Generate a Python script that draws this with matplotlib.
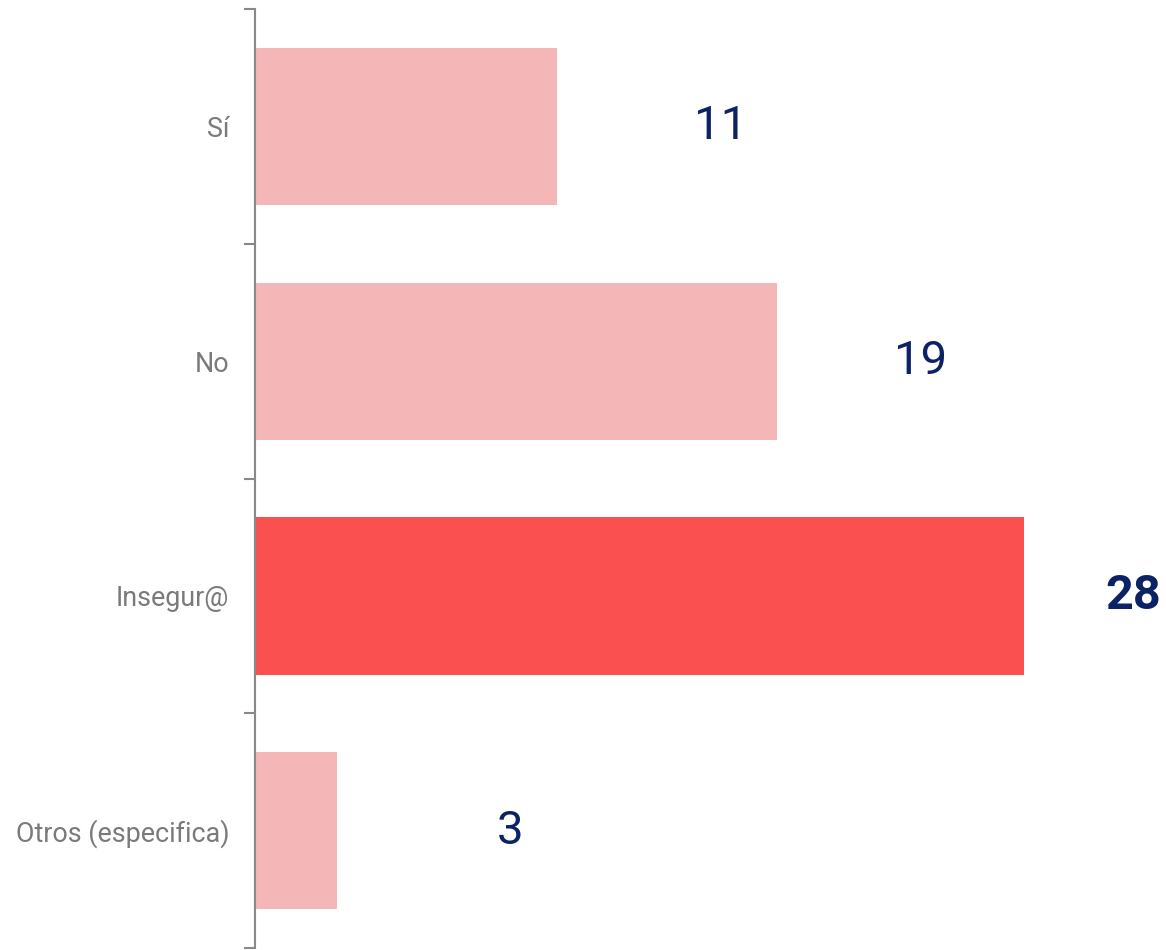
import numpy as np
import matplotlib.pyplot as plt

plt.rcParams['font.family'] = ['Roboto', 'DejaVu Sans']

categories = ['Sí', 'No', 'Insegur@', 'Otros (especifica)']
values = [11, 19, 28, 3]
highlight = 'Insegur@'

pink = '#f5b6b7'
red = '#fa5050'
navy = '#0b2265'

fig = plt.figure(figsize=(11.66, 9.5), dpi=100)
ax = fig.add_axes([0.2187, 0.0021, 0.7813, 0.9884])

y = np.arange(len(categories))
colors = [red if c == highlight else pink for c in categories]
ax.barh(y, values, height=0.67, color=colors)

ax.set_xlim(0, 33.17)
ax.set_ylim(len(categories) - 0.5, -0.5)

# value labels to the right of each bar, gap shrinks for longer bars
for yi, v, c in zip(y, values, categories):
    bold = c == highlight
    ax.text(v + 6.33 - 0.003 * v ** 2, yi, str(v), ha='center', va='center',
            fontsize=35 if bold else 34, color=navy,
            fontweight='bold' if bold else 'normal')

ax.set_yticks(y)
ax.set_yticklabels(categories, fontsize=19.4, color='#7a7a7a')
ax.set_yticks(np.arange(len(categories) + 1) - 0.5, minor=True)
ax.tick_params(axis='y', which='major', length=0, pad=18.5)
ax.tick_params(axis='y', which='minor', length=8, width=1.5, color='#888888')
ax.set_xticks([])
for s in ['top', 'right', 'bottom']:
    ax.spines[s].set_visible(False)
ax.spines['left'].set_color('#888888')
ax.spines['left'].set_linewidth(1.5)

fig.savefig('out.png', dpi=100)
